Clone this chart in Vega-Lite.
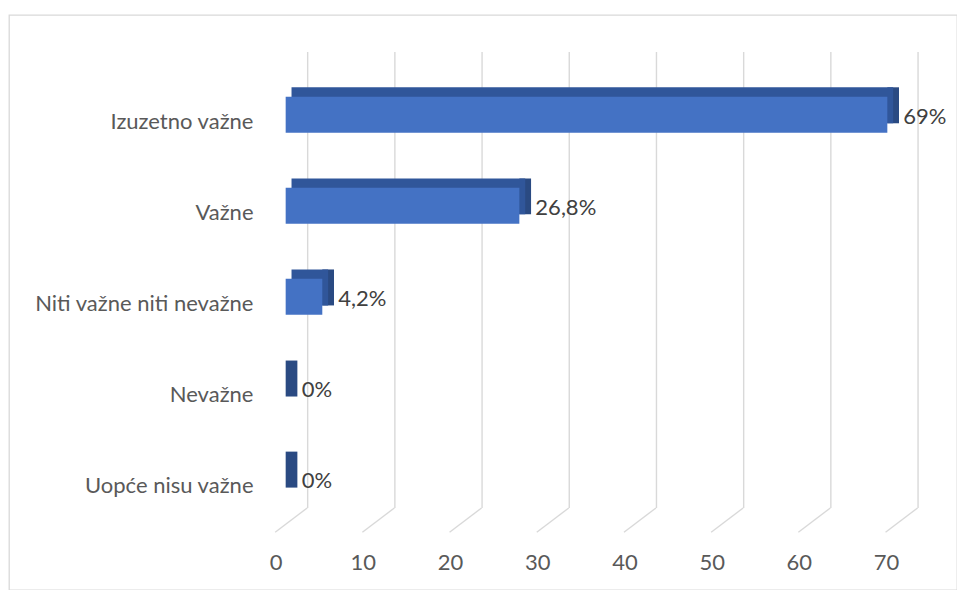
{
  "$schema": "https://vega.github.io/schema/vega-lite/v6.json",
  "width": 948,
  "height": 575,
  "autosize": {"type": "none"},
  "padding": {"left": 9, "top": 15, "right": 0, "bottom": 0},
  "background": "white",
  "config": {
    "font": "Lato",
    "view": {"stroke": "#d9d9d9", "strokeWidth": 1.3},
    "axisY": {"domain": false, "ticks": false, "grid": false, "labelPadding": 0, "offset": -244, "labelFontSize": 22, "labelColor": "#595959", "labelOffset": 7, "labelFont": "Lato", "labelLimit": 0, "title": null},
    "axisX": {"domain": false, "ticks": false, "grid": false, "labelPadding": 0, "offset": -38, "labelFontSize": 22, "labelColor": "#595959", "labelOffset": -10, "labelFont": "Lato", "labelOverlap": false, "labelFlush": false, "title": null}
  },
  "datasets": {
    "bars": [
      {"cat": "Izuzetno važne", "value": 69, "label": "69%"},
      {"cat": "Važne", "value": 26.8, "label": "26,8%"},
      {"cat": "Niti važne niti nevažne", "value": 4.2, "label": "4,2%"},
      {"cat": "Nevažne", "value": 0, "label": "0%"},
      {"cat": "Uopće nisu važne", "value": 0, "label": "0%"}
    ],
    "grid": [{"v": 0}, {"v": 10}, {"v": 20}, {"v": 30}, {"v": 40}, {"v": 50}, {"v": 60}, {"v": 70}]
  },
  "resolve": {"scale": {"y": "independent"}, "axis": {"y": "independent"}},
  "layer": [
    {
      "data": {"name": "grid"},
      "mark": {"type": "rule", "color": "#d9d9d9", "strokeWidth": 1.4, "xOffset": 22},
      "encoding": {
        "x": {"field": "v", "type": "quantitative", "scale": {"domain": [-31.73, 76.99], "nice": false, "zero": false}, "title": null,
              "axis": {"values": [0, 10, 20, 30, 40, 50, 60, 70]}},
        "y": {"datum": 0, "type": "quantitative", "scale": {"domain": [0, 1], "range": [37, 493], "nice": false, "zero": false}, "axis": null},
        "y2": {"datum": 1}
      }
    },
    {
      "data": {"name": "grid"},
      "mark": {"type": "rule", "color": "#d9d9d9", "strokeWidth": 1.4, "xOffset": 21.5, "x2Offset": -10.5, "y2Offset": 24.3},
      "encoding": {
        "x": {"field": "v", "type": "quantitative"},
        "x2": {"field": "v"},
        "y": {"datum": 1, "type": "quantitative", "scale": {"domain": [0, 1], "range": [37, 493], "nice": false, "zero": false}, "axis": null},
        "y2": {"datum": 1}
      }
    },
    {
      "data": {"name": "bars"},
      "mark": {"type": "bar", "color": "#2A4A82", "yOffset": -9.4, "x2Offset": 11.7},
      "encoding": {
        "x": {"field": "value", "type": "quantitative"},
        "x2": {"field": "value"},
        "y": {"field": "cat", "type": "nominal", "sort": null, "axis": null,
              "scale": {"type": "band", "domain": ["Izuzetno važne", "Važne", "Niti važne niti nevažne", "Nevažne", "Uopće nisu važne"], "range": [81.7, 482], "paddingInner": 0.605, "paddingOuter": 0}}
      }
    },
    {
      "data": {"name": "bars"},
      "mark": {"type": "bar", "color": "#30569A", "yOffset": -9.4, "xOffset": 5.85, "x2Offset": 5.85},
      "encoding": {
        "x": {"field": "value", "type": "quantitative"},
        "x2": {"datum": 0},
        "y": {"field": "cat", "type": "nominal", "sort": null, "axis": null,
              "scale": {"type": "band", "domain": ["Izuzetno važne", "Važne", "Niti važne niti nevažne", "Nevažne", "Uopće nisu važne"], "range": [81.7, 482], "paddingInner": 0.605, "paddingOuter": 0}}
      }
    },
    {
      "data": {"name": "bars"},
      "mark": {"type": "bar", "color": "#4472C4"},
      "encoding": {
        "x": {"field": "value", "type": "quantitative"},
        "x2": {"datum": 0},
        "y": {"field": "cat", "type": "nominal", "sort": null, "title": null,
              "scale": {"type": "band", "domain": ["Izuzetno važne", "Važne", "Niti važne niti nevažne", "Nevažne", "Uopće nisu važne"], "range": [81.7, 482], "paddingInner": 0.605, "paddingOuter": 0}}
      }
    },
    {
      "data": {"name": "bars"},
      "mark": {"type": "text", "align": "left", "baseline": "middle", "dx": 16, "dy": 2, "fontSize": 22, "color": "#404040", "font": "Lato"},
      "encoding": {
        "x": {"field": "value", "type": "quantitative"},
        "y": {"field": "cat", "type": "nominal", "sort": null, "axis": null,
              "scale": {"type": "band", "domain": ["Izuzetno važne", "Važne", "Niti važne niti nevažne", "Nevažne", "Uopće nisu važne"], "range": [81.7, 482], "paddingInner": 0.605, "paddingOuter": 0}},
        "text": {"field": "label"}
      }
    }
  ]
}
